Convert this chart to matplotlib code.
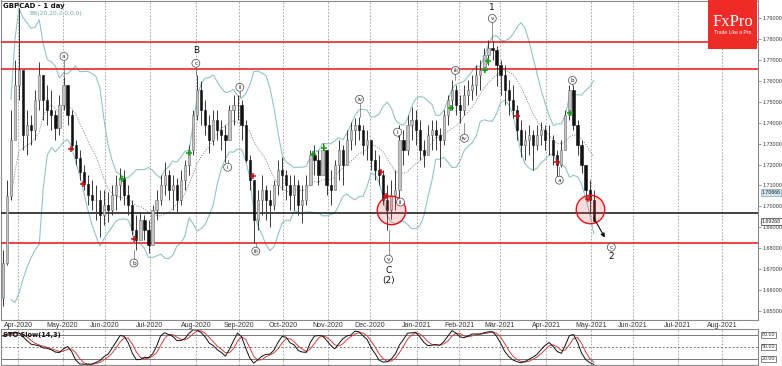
import numpy as np
import pandas as pd
import matplotlib
matplotlib.use("Agg")
import matplotlib.pyplot as plt
from matplotlib.patches import Rectangle
from matplotlib.transforms import blended_transform_factory

# ---------------- data (each bar = 2 trading days, starting 2020-03-20) ----------------
start_date = "2020-03-20"
first_open = 1.6560
bar_high = [1.679, 1.7125, 1.746, 1.770, 1.795, 1.760, 1.746, 1.7435, 1.7555, 1.769,
            1.7627, 1.758, 1.7555, 1.746, 1.7531, 1.762, 1.758, 1.746, 1.7316, 1.7268,
            1.7197, 1.715, 1.7125, 1.710, 1.7077, 1.7077, 1.7067, 1.7101, 1.7149, 1.7182,
            1.7173, 1.7101, 1.7029, 1.6957, 1.6971, 1.6957, 1.6933, 1.7005, 1.7077, 1.7149,
            1.7211, 1.7173, 1.7149, 1.7134, 1.7173, 1.722, 1.7292, 1.746, 1.7627, 1.7600,
            1.7508, 1.7436, 1.746, 1.746, 1.7412, 1.7388, 1.7484, 1.7531, 1.7531, 1.7508,
            1.7412, 1.7245, 1.7125, 1.7077, 1.7149, 1.7101, 1.7077, 1.7125, 1.722, 1.7235,
            1.7173, 1.7149, 1.7149, 1.7125, 1.7101, 1.7149, 1.7268, 1.7292, 1.7268, 1.7302,
            1.7268, 1.7173, 1.722, 1.7316, 1.7292, 1.7364, 1.7402, 1.7421, 1.7426, 1.7388,
            1.7364, 1.7316, 1.7268, 1.7245, 1.7173, 1.7101, 1.7125, 1.7173, 1.7388, 1.7364,
            1.7436, 1.7474, 1.746, 1.7412, 1.7316, 1.7388, 1.7412, 1.7412, 1.7374, 1.746,
            1.7531, 1.7603, 1.758, 1.7531, 1.758, 1.7603, 1.7627, 1.7675, 1.7699, 1.7756,
            1.7795, 1.7790, 1.7766, 1.7699, 1.7675, 1.7603, 1.758, 1.7484, 1.7412, 1.7364,
            1.7388, 1.7364, 1.7388, 1.7402, 1.7388, 1.7388, 1.734, 1.7268, 1.7316, 1.746,
            1.758, 1.758, 1.7412, 1.7316, 1.7197, 1.7125, 1.7077]
bar_low = [1.652, 1.6718, 1.703, 1.734, 1.7508, 1.727, 1.7245, 1.7292, 1.7316, 1.746,
           1.7412, 1.739, 1.7364, 1.7316, 1.734, 1.746, 1.739, 1.7268, 1.7197, 1.7125,
           1.7077, 1.7005, 1.6981, 1.6933, 1.6853, 1.6909, 1.6923, 1.6957, 1.6981, 1.7029,
           1.7005, 1.6957, 1.6862, 1.679, 1.6862, 1.6838, 1.6776, 1.6814, 1.6933, 1.7005,
           1.7053, 1.7029, 1.6981, 1.6971, 1.7005, 1.7077, 1.7149, 1.7245, 1.7412, 1.7388,
           1.734, 1.7254, 1.7292, 1.7316, 1.7268, 1.7211, 1.7316, 1.7388, 1.7412, 1.7316,
           1.7211, 1.7077, 1.6824, 1.6886, 1.6957, 1.6933, 1.6899, 1.6981, 1.7053, 1.7077,
           1.7029, 1.6981, 1.6981, 1.6957, 1.6919, 1.7005, 1.7101, 1.7149, 1.7101, 1.7149,
           1.7053, 1.7005, 1.7077, 1.7125, 1.7101, 1.7197, 1.7268, 1.7292, 1.7316, 1.7245,
           1.722, 1.7173, 1.7125, 1.7101, 1.7005, 1.6886, 1.6938, 1.6981, 1.7029, 1.7197,
           1.7245, 1.7316, 1.7292, 1.722, 1.7187, 1.7245, 1.7268, 1.7268, 1.7187, 1.7292,
           1.7388, 1.746, 1.7436, 1.7398, 1.7436, 1.7484, 1.7508, 1.7531, 1.7555, 1.7641,
           1.7675, 1.7699, 1.7575, 1.7531, 1.7484, 1.7436, 1.7421, 1.7316, 1.7235, 1.722,
           1.7245, 1.7173, 1.7268, 1.7292, 1.7268, 1.7245, 1.7197, 1.7139, 1.7187, 1.7268,
           1.7412, 1.7364, 1.7245, 1.7158, 1.7029, 1.6962, 1.6925]
bar_close = [1.673, 1.705, 1.7316, 1.758, 1.7651, 1.734, 1.739, 1.7364, 1.7508, 1.7627,
             1.7508, 1.746, 1.7436, 1.7374, 1.7484, 1.758, 1.7436, 1.7292, 1.7230, 1.7163,
             1.7106, 1.7053, 1.7029, 1.7029, 1.6957, 1.7005, 1.6981, 1.7053, 1.7101, 1.7134,
             1.7053, 1.7005, 1.6886, 1.6838, 1.6933, 1.6886, 1.6814, 1.6981, 1.7029, 1.7101,
             1.7149, 1.7077, 1.7101, 1.7029, 1.7125, 1.7197, 1.7268, 1.7436, 1.7555, 1.746,
             1.7388, 1.7316, 1.7412, 1.7364, 1.734, 1.7316, 1.746, 1.7484, 1.7484, 1.7388,
             1.722, 1.7125, 1.6933, 1.7029, 1.7077, 1.7029, 1.7005, 1.7101, 1.7173, 1.7149,
             1.7101, 1.7053, 1.7101, 1.7005, 1.7029, 1.7101, 1.7245, 1.722, 1.7149, 1.7268,
             1.7101, 1.7077, 1.7197, 1.7268, 1.7197, 1.7316, 1.7364, 1.7388, 1.7364, 1.7292,
             1.7316, 1.722, 1.7173, 1.7149, 1.7029, 1.6981, 1.7053, 1.7077, 1.7316, 1.7268,
             1.7388, 1.7412, 1.7364, 1.7268, 1.7245, 1.734, 1.7364, 1.734, 1.7316, 1.7436,
             1.7508, 1.7555, 1.7484, 1.746, 1.7531, 1.7555, 1.758, 1.7627, 1.7651, 1.7723,
             1.7756, 1.7747, 1.7675, 1.7627, 1.7555, 1.7508, 1.746, 1.7364, 1.7292, 1.7316,
             1.734, 1.7292, 1.734, 1.7364, 1.7316, 1.7316, 1.7245, 1.7197, 1.7268, 1.7436,
             1.7555, 1.7388, 1.7292, 1.7197, 1.7077, 1.7029, 1.6927]

# horizontal support / resistance levels
red_levels = [1.7789, 1.7657, 1.6822]
black_level = 1.6968
bid_price = 1.69268
band_price = 1.70666

# signal markers (trading-day index, price)
red_sig_x = [34.2, 40.1, 65.3, 124.0, 187.2, 190.1, 254.8, 274.5, 289.8]
red_sig_y = [1.7273, 1.7106, 1.6843, 1.7144, 1.7163, 1.7048, 1.7431, 1.7211, 1.7034]
green_sig_x = [59.3, 92.4, 153.6, 159.0, 222.2, 239.0, 240.5, 281.0]
green_sig_y = [1.7130, 1.7254, 1.7249, 1.7278, 1.7469, 1.7651, 1.7694, 1.7445]

# wave labels: text, trading-day index, label price, anchor price (bar extreme)
wave_circled = [("a", 30.7, 1.7718, 1.7620), ("c", 95.9, 1.7685, 1.7627),
                ("ii", 117.6, 1.7570, 1.7522), ("i", 111.6, 1.7187, 1.7220),
                ("b", 65.3, 1.6728, 1.6790), ("iii", 125.5, 1.6785, 1.6824),
                ("iv", 176.8, 1.7512, 1.7426), ("i", 195.6, 1.7355, 1.7330),
                ("ii", 197.0, 1.7020, 1.7005), ("v", 191.1, 1.6747, 1.6886),
                ("iii", 224.2, 1.7651, 1.7603), ("iv", 228.6, 1.7326, 1.7398),
                ("v", 242.4, 1.7900, 1.7790), ("a", 275.5, 1.7125, 1.7187),
                ("b", 282.0, 1.7603, 1.7580), ("c", 301.2, 1.6804, 1.6804)]
wave_plain = [("B", 95.9, 1.7747), ("C", 191.1, 1.6694), ("(2)", 191.1, 1.6642),
              ("1", 242.4, 1.7953), ("2", 301.2, 1.6761)]
circle_x = [192.1, 290.8]
circle_y = [1.6981, 1.6986]
arrow_from = (291.8, 1.6957)
arrow_to = (298.7, 1.6838)

# ---------------- derived series ----------------
high = np.array(bar_high)
low = np.array(bar_low)
close = np.array(bar_close)
n = len(close)
open_ = np.concatenate([[first_open], close[:-1]])
x = np.arange(n) * 2 + 0.5

cs = pd.Series(close)
mid = cs.rolling(10, min_periods=3).mean()
sd = cs.rolling(10, min_periods=3).std(ddof=0)
upper = mid + 2 * sd
lower = mid - 2 * sd

hh = pd.Series(high).rolling(7, min_periods=1).max()
ll = pd.Series(low).rolling(7, min_periods=1).min()
raw_k = 100 * (cs - ll) / (hh - ll)
k_slow = raw_k.rolling(3, min_periods=1).mean()
d_slow = k_slow.rolling(3, min_periods=1).mean()

start = pd.Timestamp(start_date)
months = pd.date_range("2020-04-01", "2021-08-01", freq="MS")
month_pos = [np.busday_count(start.date(), d.date()) for d in months]
month_lab = [d.strftime("%b-%Y") for d in months]

# ---------------- figure ----------------
W, H = 782, 366
fig = plt.figure(figsize=(W / 100, H / 100), dpi=100)
left = 1 / W
width = (758 - 1) / W
ax = fig.add_axes([left, 1 - 320 / H, width, 320 / H - 0.5 / H])
ax2 = fig.add_axes([left, 1 - 365 / H, width, (365 - 329) / H])

small = ["Liberation Sans", "DejaVu Sans"]

xlim = (-0.4, 373.7)
for a in (ax, ax2):
    a.set_xlim(*xlim)
    a.set_xticks(month_pos)
    a.grid(axis="x", color="#9a9a9a", linestyle=(0, (2, 2)), linewidth=0.6)
    for s in a.spines.values():
        s.set_color("#8a8a8a")
        s.set_linewidth(0.8)
    a.set_axisbelow(True)

ax.set_xticklabels(month_lab, fontsize=5, color="#333333", family=small)
ax.tick_params(axis="x", length=0, pad=1.5)
ax2.set_xticklabels([])
ax2.tick_params(axis="x", length=0)

# price axis
ax.set_ylim(1.6455, 1.7986)
ax.yaxis.tick_right()
yt = np.arange(1.65, 1.7951, 0.01)
ax.set_yticks(yt)
ax.set_yticklabels([f"{v:.5f}" for v in yt], fontsize=3.9, color="#333333", family=small)
ax.tick_params(axis="y", length=2, pad=1, width=0.5, color="#666666")

# Bollinger bands
ax.plot(x, upper, color="#93c4c4", lw=0.8, zorder=2)
ax.plot(x, lower, color="#93c4c4", lw=0.8, zorder=2)
ax.plot(x, mid, color="#8a8a8a", lw=0.6, linestyle=(0, (1.5, 1.5)), zorder=2)

# levels
for lv in red_levels:
    ax.axhline(lv, color="#e8141a", lw=1.1, zorder=3)
ax.axhline(black_level, color="#111111", lw=1.1, zorder=3)

# candles
up = close >= open_
ax.vlines(x, low, high, color="#3a3a3a", lw=0.7, zorder=4)
ax.bar(x[up], (close - open_)[up], bottom=open_[up], width=1.1,
       color="#c4c4c4", edgecolor="#6a6a6a", linewidth=0.4, zorder=5)
ax.bar(x[~up], (open_ - close)[~up], bottom=close[~up], width=1.1,
       color="#111111", edgecolor="#111111", linewidth=0.4, zorder=5)

# signals
ax.plot(red_sig_x, red_sig_y, "+", color="#d01010", ms=4, mew=1.1, zorder=6)
ax.plot(green_sig_x, green_sig_y, "+", color="#10a010", ms=4, mew=1.1, zorder=6)

# red circles
ax.scatter(circle_x, circle_y, s=420, facecolor=(1, 0.3, 0.3, 0.2),
           edgecolor="#e8141a", linewidth=1.0, zorder=7)

# wave labels
for t, lx, ly, anc in wave_circled:
    ax.plot([lx, lx], [anc, ly], color="#666666", lw=0.5, zorder=6)
    ax.text(lx, ly, t, fontsize=4.2, ha="center", va="center", color="#222222", zorder=8,
            bbox=dict(boxstyle="circle,pad=0.25", fc="white", ec="#444444", lw=0.5))
for t, lx, ly in wave_plain:
    ax.text(lx, ly, t, fontsize=6.5, ha="center", va="center", color="#111111", zorder=8)

ax.annotate("", xy=arrow_to, xytext=arrow_from,
            arrowprops=dict(arrowstyle="-|>", color="#111111", lw=0.8, mutation_scale=6),
            zorder=8)

# price boxes on right axis
tr = blended_transform_factory(ax.transAxes, ax.transData)
ax.text(1.005, band_price, f"{band_price:.5f}", transform=tr, fontsize=3.8, va="center",
        ha="left", color="#222222", clip_on=False, family=small,
        bbox=dict(boxstyle="square,pad=0.12", fc="#cfe4ef", ec="#7fa9bf", lw=0.5))
ax.text(1.005, bid_price, f"{bid_price:.5f}", transform=tr, fontsize=3.8, va="center",
        ha="left", color="#222222", clip_on=False, family=small,
        bbox=dict(boxstyle="square,pad=0.12", fc="white", ec="#333333", lw=0.5))

# titles
ax.text(0.003, 0.992, "GBPCAD - 1 day", transform=ax.transAxes, fontsize=5,
        fontweight="bold", va="top", ha="left", color="#111111", zorder=9)
ax.text(0.037, 0.968, "BB(20,20,2.0,0,0)", transform=ax.transAxes, fontsize=4.3,
        va="top", ha="left", color="#6fa8a8", zorder=9)

# stochastic panel
ax2.set_ylim(5, 95)
ax2.set_yticks([])
for lv, ls in [(80, "-"), (20, "-"), (50, (0, (2, 2)))]:
    ax2.axhline(lv, color="#777777", lw=0.7, linestyle=ls)
ax2.plot(x, d_slow, color="#d04040", lw=0.7)
ax2.plot(x, k_slow, color="#111111", lw=0.7)
ax2.text(0.003, 0.93, "STO Slow(14,3)", transform=ax2.transAxes, fontsize=4.8,
         fontweight="bold", va="top", ha="left", color="#111111")
tr2 = blended_transform_factory(ax2.transAxes, ax2.transData)
for lv in (80, 50, 20):
    ax2.text(1.005, lv, f"{lv:.2f}", transform=tr2, fontsize=3.8, va="center", ha="left",
             color="#333333", clip_on=False, family=small,
             bbox=dict(boxstyle="square,pad=0.12", fc="white", ec="#555555", lw=0.5))

# FxPro logo
fig.add_artist(Rectangle((708 / W, 1 - 49 / H), 49 / W, 49 / H, transform=fig.transFigure,
                         facecolor="#ee2b26", edgecolor="none", zorder=10))
fig.text(732.5 / W, 1 - 22 / H, "FxPro", fontsize=12, family=["Liberation Serif", "DejaVu Serif"],
         color="white", ha="center", va="center", zorder=11)
fig.text(732.5 / W, 1 - 33 / H, "Trade Like a Pro", fontsize=3.6, color="white",
         ha="center", va="center", zorder=11, family=small)

fig.savefig("out.png", dpi=100)
